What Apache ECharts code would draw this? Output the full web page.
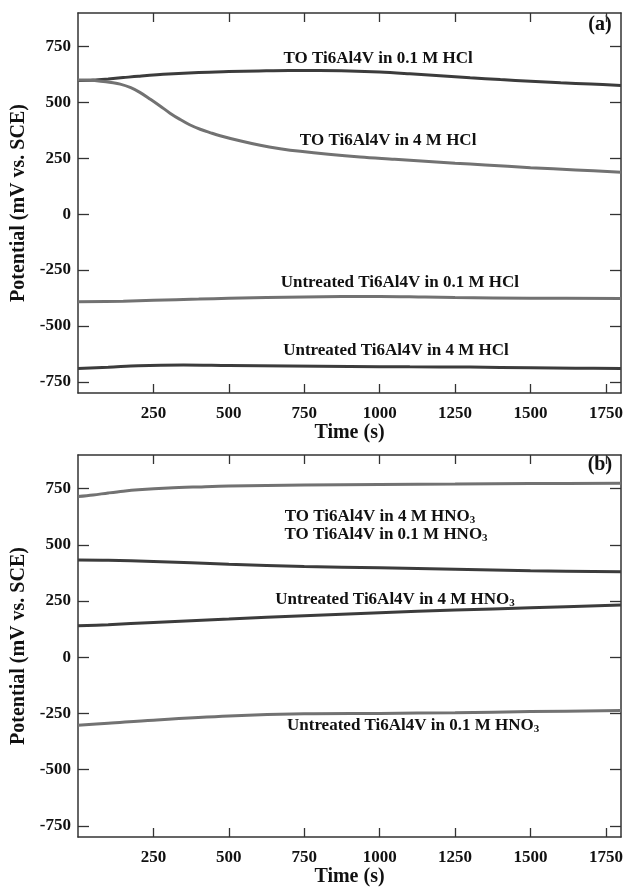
<!DOCTYPE html>
<html><head><meta charset="utf-8">
<script src="https://cdn.jsdelivr.net/npm/echarts@6/dist/echarts.min.js"></script>
<style>html,body{margin:0;padding:0;background:#fff}#c{width:626px;height:890px}</style>
</head><body><div id="c"></div>
<script>
// ---- Data (time in s, potential in mV vs. SCE) ----
const xTicks = [250, 500, 750, 1000, 1250, 1500, 1750];
const yTicks = [-750, -500, -250, 0, 250, 500, 750];

// Panel (a) HCl
const toHcl01 = [[0,598],[50,600],[100,605],[150,611],[200,617],[300,627],[400,634],[500,638],[600,641],[700,643],[800,643],[900,641],[1000,636],[1100,628],[1200,619],[1300,610],[1400,602],[1500,595],[1600,588],[1700,582],[1800,576]];
const toHcl4 = [[0,600],[40,599],[75,595],[110,589],[140,582],[175,566],[205,545],[240,514],[272,484],[305,452],[338,424],[370,400],[405,380],[440,364],[471,351],[540,327],[604,308],[670,293],[737,281],[830,268],[935,256],[1050,246],[1150,237],[1250,228],[1350,220],[1500,208],[1650,198],[1800,188]];
const unHcl01 = [[0,-392],[150,-389],[250,-385],[400,-380],[500,-376],[750,-370],[1000,-368],[1150,-371],[1250,-373],[1500,-376],[1800,-377]];
const unHcl4 = [[0,-690],[100,-685],[200,-678],[350,-675],[500,-677],[700,-679],[900,-681],[1100,-683],[1300,-684],[1500,-687],[1650,-689],[1800,-690]];

// Panel (b) HNO3
const toHno4 = [[0,715],[50,722],[100,731],[150,739],[200,745],[300,753],[400,758],[500,762],[750,766],[1000,769],[1250,771],[1500,773],[1800,774]];
const toHno01 = [[0,433],[100,432],[250,426],[500,414],[750,404],[1000,398],[1250,392],[1500,385],[1800,380]];
const unHno4 = [[0,140],[100,145],[250,155],[500,170],[750,185],[1000,198],[1250,210],[1500,220],[1800,232]];
const unHno01 = [[0,-303],[100,-294],[250,-280],[500,-262],[750,-252],[1000,-250],[1250,-247],[1500,-242],[1800,-237]];

// Annotation labels: [text, t, v]
const labelsA = [["TO Ti6Al4V in 0.1 M HCl", 995, 696],["TO Ti6Al4V in 4 M HCl", 1028, 329],["Untreated Ti6Al4V in 0.1 M HCl", 1067, -306],["Untreated Ti6Al4V in 4 M HCl", 1054, -611]];
const labelsB = [["TO Ti6Al4V in 4 M HNO{s|3}", 1001, 625],["TO Ti6Al4V in 0.1 M HNO{s|3}", 1021, 546],["Untreated Ti6Al4V in 4 M HNO{s|3}", 1051, 257],["Untreated Ti6Al4V in 0.1 M HNO{s|3}", 1111, -306]];
const panelTags = [["(a)", 1730, 848],["(b)", 1730, 857]];

const DARK = '#3c3c3c', MID = '#727272', AX = '#333';
const FONT = '"Liberation Serif","Times New Roman",serif';

const chart = echarts.init(document.getElementById('c'));
function xAx(grid, pos, show){
  return {type:'value', gridIndex:grid, position:pos, min:0, max:1800, interval:250,
    axisLine:{show:true, onZero:false, lineStyle:{color:AX, width:1.5}},
    axisTick:{show:true, inside:true, length:9, customValues:xTicks, lineStyle:{color:AX, width:1.3}},
    splitLine:{show:false},
    axisLabel:{show:show, customValues:xTicks, formatter:v=>String(v), margin:12, color:'#111', fontFamily:FONT, fontWeight:'bold', fontSize:17},
    name: show?'Time (s)':'', nameLocation:'middle', nameGap:29,
    nameTextStyle:{color:'#111', fontFamily:FONT, fontWeight:'bold', fontSize:20}};
}
function yAx(grid, pos, show){
  return {type:'value', gridIndex:grid, position:pos, min:-800, max:900,
    axisLine:{show:true, onZero:false, lineStyle:{color:AX, width:1.5}},
    axisTick:{show:true, inside:true, length:11, customValues:yTicks, lineStyle:{color:AX, width:1.3}},
    splitLine:{show:false},
    axisLabel:{show:show, customValues:yTicks, formatter:v=>String(v), margin:7, color:'#111', fontFamily:FONT, fontWeight:'bold', fontSize:17},
    name: show?'Potential (mV vs. SCE)':'', nameLocation:'middle', nameGap:46,
    nameTextStyle:{color:'#111', fontFamily:FONT, fontWeight:'bold', fontSize:20}};
}
function ser(data, x, y, color){
  return {type:'line', xAxisIndex:x, yAxisIndex:y, data:data, showSymbol:false, smooth:0.35,
    lineStyle:{color:color, width:3}, silent:true, animation:false};
}
chart.setOption({
  animation:false,
  grid:[{left:78, right:5, top:13, height:380, containLabel:false, outerBoundsMode:'none'},
        {left:78, right:5, top:455, height:382, containLabel:false, outerBoundsMode:'none'}],
  xAxis:[xAx(0,'bottom',true), xAx(0,'top',false), xAx(1,'bottom',true), xAx(1,'top',false)],
  yAxis:[yAx(0,'left',true), yAx(0,'right',false), yAx(1,'left',true), yAx(1,'right',false)],
  series:[
    ser(toHcl01,0,0,DARK), ser(toHcl4,0,0,MID), ser(unHcl01,0,0,MID), ser(unHcl4,0,0,DARK),
    ser(toHno4,2,2,MID), ser(toHno01,2,2,DARK), ser(unHno4,2,2,DARK), ser(unHno01,2,2,MID)
  ]
});
const g = [];
function addLabels(list, gi){
  list.forEach(([txt,t,v])=>{
    const p = chart.convertToPixel({gridIndex:gi}, [t,v]);
    g.push({type:'text', x:p[0], y:p[1], style:{text:txt, align:'center', verticalAlign:'middle',
      fill:'#111', font:'bold 17px '+FONT,
      rich:{s:{fontSize:11, fontWeight:'bold', fontFamily:FONT, fill:'#111', verticalAlign:'bottom', padding:[7,0,0,0]}}}});
  });
}
addLabels(labelsA,0); addLabels(labelsB,1);
panelTags.forEach(([txt,t,v],i)=>{
  const p = chart.convertToPixel({gridIndex:i}, [t,v]);
  g.push({type:'text', x:p[0], y:p[1], style:{text:txt, align:'center', verticalAlign:'middle', fill:'#111', font:'bold 20px '+FONT}});
});
chart.setOption({graphic:g});
</script></body></html>
